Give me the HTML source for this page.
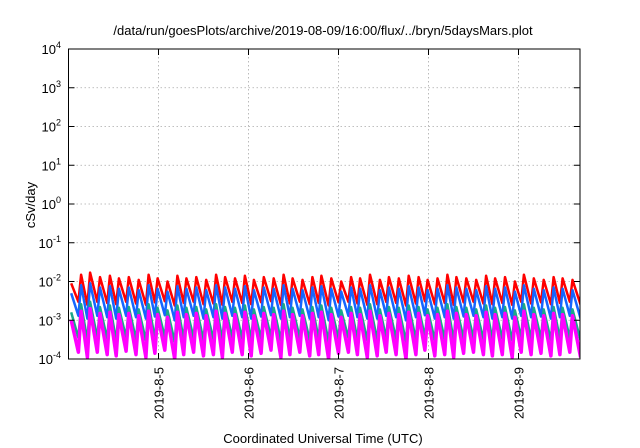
<!DOCTYPE html>
<html><head><meta charset="utf-8"><style>
html,body{margin:0;padding:0;background:#fff;}
svg{display:block;font-family:"Liberation Sans",sans-serif;}
</style></head><body>
<svg id="chart" width="640" height="448" viewBox="0 0 640 448" xmlns="http://www.w3.org/2000/svg">
<rect width="640" height="448" fill="#fff"/>
<text x="323" y="35" font-size="13" text-anchor="middle">/data/run/goesPlots/archive/2019-08-09/16:00/flux/../bryn/5daysMars.plot</text>
<text transform="translate(35,205) rotate(-90)" font-size="13" text-anchor="middle">cSv/day</text>
<text x="323" y="443" font-size="13" text-anchor="middle">Coordinated Universal Time (UTC)</text>
<g id="grid"></g><g id="series"></g><g id="axes"></g>
</svg>
<script>
const dayLabels = ["2019-8-5","2019-8-6","2019-8-7","2019-8-8","2019-8-9"];
const dayTicks = [1,2,3,4,5];
const decades = [-4,-3,-2,-1,0,1,2,3,4];
const toothTimes = [0.00,0.11,0.21,0.32,0.43,0.53,0.64,0.75,0.86,0.96,1.07,1.18,1.28,1.39,1.50,1.61,1.71,1.82,1.93,2.03,2.14,2.25,2.36,2.46,2.57,2.68,2.78,2.89,3.00,3.11,3.21,3.32,3.43,3.53,3.64,3.75,3.86,3.96,4.07,4.18,4.28,4.39,4.50,4.61,4.71,4.82,4.93,5.03,5.14,5.25,5.36,5.46,5.57];
const endTime = 5.69;
const redPeak = [9,15,17,13,14,12,13,11,15,12,10,14,12,13,11,15,13,12,14,11,13,12,15,12,11,13,14,12,10,13,12,15,11,13,12,14,13,11,12,15,13,12,11,14,12,13,10,15,12,11,13,12,11];
const redTrough = [3,2.5,3,2.8,2.6,3,2.7,2.5,2.9,3.1,2.4,2.8,3,2.6,2.7,2.5,3,2.8,2.6,2.9,3.1,2.5,2.7,3,2.6,2.8,2.4,2.9,3,2.7,2.5,2.6,3,2.8,2.4,2.7,3.1,2.6,2.8,2.5,2.9,3,2.7,2.6,2.8,2.5,3,2.7,2.9,2.6,2.8,3,2.5];
const bluePeak = [5,8,9,7,7.5,6.5,7,6,8,6.5,5.5,7.5,6.5,7,6,8,7,6.5,7.5,6,7,6.5,8,6.5,6,7,7.5,6.5,5.5,7,6.5,8,6,7,6.5,7.5,7,6,6.5,8,7,6.5,6,7.5,6.5,7,5.5,8,6.5,6,7,6.5,6];
const blueTrough = [1.3,1.1,1.3,1.2,1.1,1.3,1.2,1.1,1.25,1.35,1.0,1.2,1.3,1.1,1.2,1.1,1.3,1.2,1.1,1.25,1.35,1.1,1.2,1.3,1.1,1.2,1.0,1.25,1.3,1.2,1.1,1.1,1.3,1.2,1.0,1.2,1.35,1.1,1.2,1.1,1.25,1.3,1.2,1.1,1.2,1.1,1.3,1.2,1.25,1.1,1.2,1.3,1.1];
const tealPeak = [1.6,2.6,3,2.2,2.4,2.1,2.2,1.9,2.6,2.1,1.8,2.4,2.1,2.2,1.9,2.6,2.2,2.1,2.4,1.9,2.2,2.1,2.6,2.1,1.9,2.2,2.4,2.1,1.8,2.2,2.1,2.6,1.9,2.2,2.1,2.4,2.2,1.9,2.1,2.6,2.2,2.1,1.9,2.4,2.1,2.2,1.8,2.6,2.1,1.9,2.2,2.1,1.9];
const tealTrough = [0.35,0.3,0.35,0.33,0.3,0.36,0.32,0.3,0.34,0.37,0.28,0.33,0.35,0.31,0.32,0.3,0.35,0.33,0.31,0.34,0.37,0.3,0.32,0.35,0.31,0.33,0.28,0.34,0.35,0.32,0.3,0.31,0.35,0.33,0.28,0.32,0.37,0.31,0.33,0.3,0.34,0.35,0.32,0.31,0.33,0.3,0.35,0.32,0.34,0.31,0.33,0.35,0.3];
const magPeak = [1.0,1.7,2.0,1.5,1.6,1.4,1.5,1.3,1.7,1.4,1.2,1.6,1.4,1.5,1.3,1.7,1.5,1.4,1.6,1.3,1.5,1.4,1.7,1.4,1.3,1.5,1.6,1.4,1.2,1.5,1.4,1.7,1.3,1.5,1.4,1.6,1.5,1.3,1.4,1.7,1.5,1.4,1.3,1.6,1.4,1.5,1.2,1.7,1.4,1.3,1.5,1.4,1.3];
const magTrough = [0.15,0.11,0.15,0.13,0.12,0.16,0.13,0.11,0.14,0.17,0.1,0.13,0.15,0.12,0.13,0.11,0.15,0.13,0.12,0.14,0.17,0.11,0.13,0.15,0.12,0.13,0.1,0.14,0.15,0.13,0.11,0.12,0.15,0.13,0.1,0.13,0.17,0.12,0.13,0.11,0.14,0.15,0.13,0.12,0.13,0.11,0.15,0.13,0.14,0.12,0.13,0.15,0.11];

const NS="http://www.w3.org/2000/svg";
const X0=68.5,X1=580,Y0=49,Y1=359;
const RISE=0.03;
const xDay = d => X0 + d*90;
const yLog = v => Y1 - (Math.log10(v)+4)*(Y1-Y0)/8;
function mk(tag, attrs, parent){const e=document.createElementNS(NS,tag);for(const k in attrs)e.setAttribute(k,attrs[k]);parent.appendChild(e);return e;}
const grid=document.getElementById('grid'), axes=document.getElementById('axes'), ser=document.getElementById('series');

decades.forEach(p=>{
  const y=yLog(Math.pow(10,p));
  if(p>-4&&p<4){const l=mk('line',{x1:X0,x2:X1,y1:y,y2:y,stroke:'#aaa','stroke-width':0.8,'stroke-dasharray':'1.5,2.5'},grid);
  
  }
  const t=mk('text',{x:61,y:y+5,'font-size':13,'text-anchor':'end'},axes);
  
  
  t.innerHTML='10<tspan dy="-6" font-size="9">'+p+'</tspan>';
  mk('line',{x1:X0,x2:X0+6,y1:y,y2:y,stroke:'#000'},axes);
  mk('line',{x1:X1,x2:X1-6,y1:y,y2:y,stroke:'#000'},axes);
});
dayTicks.forEach((d,i)=>{
  const x=xDay(d);
  const l=mk('line',{x1:x,x2:x,y1:Y0,y2:Y1,stroke:'#aaa','stroke-width':0.8,'stroke-dasharray':'1.5,2.5'},grid);
  
  
  mk('line',{x1:x,x2:x,y1:Y1,y2:Y1-6,stroke:'#000'},axes);
  mk('line',{x1:x,x2:x,y1:Y0,y2:Y0+6,stroke:'#000'},axes);
  const t=mk('text',{transform:`translate(${x+5},367) rotate(-90)`,'font-size':13,'text-anchor':'end'},axes);
  
  
  t.textContent=dayLabels[i];
});
const frame=mk('rect',{x:X0,y:Y0,width:X1-X0,height:Y1-Y0,fill:'none',stroke:'#000','stroke-width':1},axes);



function series(peaks,troughs,scale,color,w,name){
  let d='';
  for(let i=0;i<toothTimes.length;i++){
    const t0=toothTimes[i], t1=(i+1<toothTimes.length)?toothTimes[i+1]:endTime;
    d+=(i?'L':'M')+xDay(t0+RISE).toFixed(1)+','+yLog(peaks[i]*scale).toFixed(1)+'L'+xDay(t1).toFixed(1)+','+yLog(troughs[i]*scale).toFixed(1);
  }
  const p=mk('path',{d:d,fill:'none',stroke:color,'stroke-width':w,'stroke-linejoin':'round'},ser);
  
  
}
const clip=mk('clipPath',{id:'pc'},document.getElementById('chart'));
mk('rect',{x:X0,y:Y0,width:X1-X0,height:Y1-Y0},clip);
ser.setAttribute('clip-path','url(#pc)');
series(redPeak,redTrough,1e-3,'#ff0000',2.5,'series-red');
series(bluePeak,blueTrough,1e-3,'#1565ff',2.5,'series-blue');
series(tealPeak,tealTrough,1e-3,'#1aa88a',2.5,'series-teal');
series(magPeak,magTrough,1e-3,'#ff00ff',3.5,'series-magenta');
</script>
</body></html>
